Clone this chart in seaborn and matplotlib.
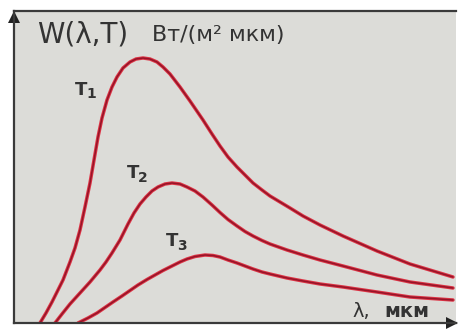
import numpy as np
import pandas as pd
import matplotlib
matplotlib.use("Agg")
import matplotlib.pyplot as plt
import matplotlib.patheffects as pe
from matplotlib.transforms import offset_copy
import seaborn as sns

# Spectral radiance curves W(λ,T) for three temperatures T1 > T2 > T3
# (schematic units: λ in μm, W in relative units)
lam_t1 = [0.26, 0.32, 0.38, 0.44, 0.49, 0.56, 0.61, 0.66, 0.71, 0.76, 0.80, 0.84,
          0.88, 0.93, 0.98, 1.03, 1.09, 1.16, 1.22, 1.29, 1.36, 1.43, 1.49, 1.56,
          1.66, 1.76, 1.89, 1.98, 2.06, 2.14, 2.23, 2.31, 2.39, 2.48, 2.56, 2.66,
          2.76, 2.89, 3.06, 3.29, 3.63, 3.96, 4.39]
w_t1 = [0.00, 0.10, 0.21, 0.33, 0.43, 0.61, 0.75, 0.93, 1.16, 1.40, 1.63, 1.86,
        2.05, 2.23, 2.36, 2.46, 2.55, 2.61, 2.64, 2.65, 2.64, 2.61, 2.56, 2.49,
        2.36, 2.22, 2.03, 1.89, 1.77, 1.66, 1.56, 1.48, 1.40, 1.33, 1.27, 1.21,
        1.15, 1.07, 0.98, 0.87, 0.72, 0.59, 0.46]

lam_t2 = [0.41, 0.48, 0.56, 0.66, 0.76, 0.86, 0.92, 0.98, 1.06, 1.14, 1.20, 1.26,
          1.32, 1.38, 1.44, 1.51, 1.58, 1.66, 1.73, 1.81, 1.89, 1.98, 2.06, 2.14,
          2.23, 2.31, 2.39, 2.48, 2.56, 2.73, 2.89, 3.06, 3.29, 3.63, 3.96, 4.39]
w_t2 = [0.00, 0.09, 0.19, 0.30, 0.41, 0.53, 0.61, 0.70, 0.83, 0.99, 1.10, 1.19,
        1.26, 1.32, 1.36, 1.39, 1.40, 1.39, 1.36, 1.32, 1.26, 1.18, 1.105, 1.035,
        0.97, 0.915, 0.87, 0.825, 0.79, 0.73, 0.68, 0.63, 0.57, 0.48, 0.41, 0.35]

lam_t3 = [0.64, 0.74, 0.83, 0.91, 0.99, 1.08, 1.16, 1.24, 1.33, 1.41, 1.49, 1.58,
          1.66, 1.73, 1.81, 1.91, 1.99, 2.06, 2.14, 2.23, 2.31, 2.39, 2.48, 2.56,
          2.73, 2.89, 3.06, 3.29, 3.63, 3.96, 4.39]
w_t3 = [0.00, 0.05, 0.10, 0.155, 0.21, 0.27, 0.325, 0.38, 0.435, 0.48, 0.525, 0.57,
        0.61, 0.64, 0.665, 0.68, 0.675, 0.66, 0.63, 0.60, 0.57, 0.54, 0.51, 0.49,
        0.45, 0.42, 0.39, 0.36, 0.31, 0.26, 0.23]

curve_names = ["T1", "T2", "T3"]

df = pd.concat([
    pd.DataFrame({"lam": lam_t1, "W": w_t1, "curve": curve_names[0]}),
    pd.DataFrame({"lam": lam_t2, "W": w_t2, "curve": curve_names[1]}),
    pd.DataFrame({"lam": lam_t3, "W": w_t3, "curve": curve_names[2]}),
], ignore_index=True)

sns.set_theme(style="white")
plt.rcParams["font.family"] = ["DejaVu Sans"]

W_PX, H_PX = 458, 329
fig = plt.figure(figsize=(W_PX / 100, H_PX / 100), dpi=100)
fig.patch.set_facecolor("white")


def fx(x):
    return x / W_PX


def fy(y):
    return 1 - y / H_PX


ax = fig.add_axes([fx(14), fy(323), fx(456) - fx(14), fy(11) - fy(323)])
ax.set_facecolor("#dcdcd8")

red = "#c8202f"
sns.lineplot(data=df, x="lam", y="W", hue="curve", units="curve", estimator=None,
             sort=False, palette=[red, red, red], legend=False, ax=ax,
             linewidth=1.1)
for ln in ax.lines:
    ln.set_solid_capstyle("round")
    ln.set_solid_joinstyle("round")
    ln.set_color("#961428")
    ln.set_path_effects([pe.Stroke(linewidth=2.5, foreground="#dd3445"),
                         pe.Normal()])

ax.set_xlim(0, 4.42)
ax.set_ylim(0, 3.12)
ax.set_xticks([])
ax.set_yticks([])
ax.set_xlabel("")
ax.set_ylabel("")

frame = "#3a3a3a"
for side in ["top", "left", "bottom"]:
    ax.spines[side].set_visible(True)
    ax.spines[side].set_color(frame)
    ax.spines[side].set_linewidth(1.6)
ax.spines["right"].set_visible(False)

# axis arrows
up = offset_copy(ax.transAxes, fig=fig, x=-0.5, y=-6, units="dots")
ax.plot([0], [1.0], marker="^", markersize=9, color="#222222",
        transform=up, clip_on=False, markeredgewidth=0)
right = offset_copy(ax.transAxes, fig=fig, x=-4, y=0, units="dots")
ax.plot([1.0], [0], marker=">", markersize=8, color="#222222",
        transform=right, clip_on=False, markeredgewidth=0)

txt = "#333333"
fig.text(fx(37), fy(42), "W(λ,T)", fontsize=20, color=txt, ha="left", va="baseline")
fig.text(fx(152), fy(41), "Вт/(м² мкм)", fontsize=16, color=txt, ha="left", va="baseline")

# curve labels
for (x, y, dx, dy, s) in [(75, 95, 11, 3, "1"), (127, 178, 11, 4, "2"), (166, 246, 11, 4, "3")]:
    fig.text(fx(x), fy(y), "T", fontsize=13, fontweight="bold", color=txt,
             ha="left", va="baseline")
    fig.text(fx(x + dx), fy(y + dy), s, fontsize=10, fontweight="bold", color=txt,
             ha="left", va="baseline")

fig.text(fx(352), fy(317), "λ,", fontsize=14, color=txt, ha="left", va="baseline")
fig.text(fx(384), fy(317), "мкм", fontsize=14, fontweight="bold", color=txt,
         ha="left", va="baseline")

fig.savefig("out.png", dpi=100, facecolor="white")
